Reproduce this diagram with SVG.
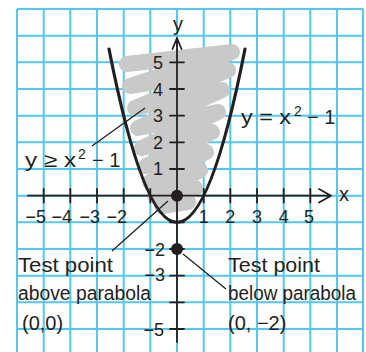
<svg xmlns="http://www.w3.org/2000/svg" width="366" height="352" viewBox="0 0 366 352">
<style>
.grid{stroke:#52c7ef;stroke-width:2;fill:none}
.ax{stroke:#231f20;stroke-width:1.8;fill:none;stroke-linecap:round;stroke-linejoin:round}
.t{font-family:"Liberation Sans",Arial,sans-serif;fill:#231f20}
.n{font-size:18px}
.lbl{font-size:20px}
.lead{stroke:#231f20;stroke-width:1.3;fill:none}
</style>
<rect width="366" height="352" fill="#fff"/>
<g id="grid" class="grid">
<path d="M17 9V352M43.7 9V352M70.3 9V352M97 9V352M123.7 9V352M150.3 9V352M177 9V352M203.7 9V352M230.3 9V352M257 9V352M283.7 9V352M310.3 9V352M337 9V352M363 9V352"/>
<path d="M17 9H363M17 35.7H363M17 62.3H363M17 89H363M17 115.7H363M17 142.3H363M17 169H363M17 195.7H363M17 222.3H363M17 249H363M17 275.7H363M17 302.3H363M17 329H363"/>
</g>
<g id="shading">
<polyline points="127,64 232,52 130,86 228,70 135,108 222,90 138,128 218,112 142,148 212,132 146,166 206,152 150,182 200,170 155,196 195,188 162,206 188,202" fill="none" stroke="#c9c9c9" stroke-width="16" stroke-linejoin="round" stroke-linecap="round"/>
</g>
<g id="axes">
<path class="ax" d="M28 195.7H331M319 189L331 195.7L319 202.5"/>
<path class="ax" d="M177 38V342M172.5 49L177 38L181.5 49"/>
<path class="ax" d="M43.7 189V202.5M70.3 189V202.5M97 189V202.5M123.7 189V202.5M150.3 189V202.5M203.7 189V202.5M230.3 189V202.5M257 189V202.5M283.7 189V202.5M310.3 189V202.5"/>
<path class="ax" d="M170 62.3H184M170 89H184M170 115.7H184M170 142.3H184M170 169H184M170 222.3H184M170 249H184M170 275.7H184M170 302.3H184M170 329H184"/>
<text class="t" x="173" y="31" font-size="20">y</text>
<text class="t" x="339" y="201" font-size="20">x</text>
</g>
<g id="tick-labels" class="t n">
<text x="163" y="69" text-anchor="end">5</text>
<text x="163" y="96" text-anchor="end">4</text>
<text x="163" y="122" text-anchor="end">3</text>
<text x="163" y="149" text-anchor="end">2</text>
<text x="163" y="175" text-anchor="end">1</text>
<text x="165" y="256" text-anchor="end">−2</text>
<text x="165" y="281" text-anchor="end">−3</text>
<text x="164" y="336" text-anchor="end">−5</text>
<text x="46" y="223" text-anchor="end">−5</text>
<text x="72" y="223" text-anchor="end">−4</text>
<text x="100" y="223" text-anchor="end">−3</text>
<text x="127" y="223" text-anchor="end">−2</text>
<text x="203.7" y="223" text-anchor="middle">1</text>
<text x="230.3" y="223" text-anchor="middle">2</text>
<text x="257" y="223" text-anchor="middle">3</text>
<text x="283.7" y="223" text-anchor="middle">4</text>
<text x="309" y="223" text-anchor="middle">5</text>
</g>
<g id="parabola">
<path d="M109 49Q177 395.7 245 49" fill="none" stroke="#231f20" stroke-width="3.2" stroke-linecap="round"/>
</g>
<g id="test-points">
<circle cx="177" cy="195.7" r="6" fill="#231f20"/>
<circle cx="177" cy="249" r="6" fill="#231f20"/>
</g>
<g id="connectors">
<path class="lead" d="M92 146L145 108"/>
<path class="lead" d="M168 201L112 251"/>
<path class="lead" d="M183 254L226 289"/>
</g>
<g id="label-inequality" class="t lbl">
<text x="25" y="167" textLength="51" lengthAdjust="spacingAndGlyphs">y ≥ x</text>
<text x="78" y="159" font-size="14">2</text>
<text x="92" y="167">− 1</text>
</g>
<g id="label-equation" class="t lbl">
<text x="241" y="124" textLength="50" lengthAdjust="spacingAndGlyphs">y = x</text>
<text x="294" y="116" font-size="14">2</text>
<text x="307" y="124">− 1</text>
</g>
<g id="label-above" class="t lbl">
<text x="18" y="272" textLength="95" lengthAdjust="spacingAndGlyphs">Test point</text>
<text x="18" y="300" textLength="133" lengthAdjust="spacingAndGlyphs">above parabola</text>
<text x="22" y="330">(0,0)</text>
</g>
<g id="label-below" class="t lbl">
<text x="228" y="272" textLength="92" lengthAdjust="spacingAndGlyphs">Test point</text>
<text x="228" y="300" textLength="128" lengthAdjust="spacingAndGlyphs">below parabola</text>
<text x="228" y="330">(0, −2)</text>
</g>
</svg>
